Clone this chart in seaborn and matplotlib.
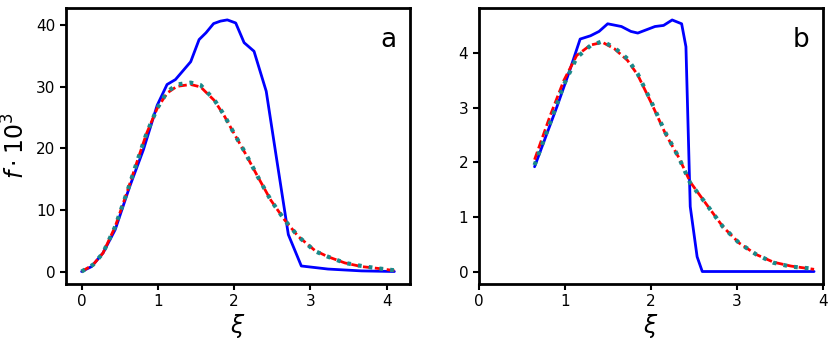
import numpy as np
import pandas as pd
import matplotlib
matplotlib.use("Agg")
import matplotlib.pyplot as plt
import seaborn as sns

# ---- Panel a data ----
a_blue_x = [0.0, 0.13, 0.28, 0.44, 0.63, 0.81, 0.99, 1.12, 1.23, 1.43, 1.54, 1.63, 1.73, 1.82, 1.91, 2.02,
            2.13, 2.26, 2.42, 2.56, 2.71, 2.88, 3.23, 3.67, 4.10]
a_blue_y = [0.0, 0.8, 3.0, 6.8, 13.8, 19.8, 27.0, 30.4, 31.2, 34.1, 37.7, 38.8, 40.3, 40.7, 40.9, 40.4,
            37.2, 35.8, 29.3, 18.0, 6.0, 0.9, 0.4, 0.1, 0.0]
a_fit_x = [0.0, 0.15, 0.28, 0.44, 0.59, 0.72, 0.85, 0.99, 1.12, 1.25, 1.43, 1.56, 1.74, 1.87, 2.00, 2.15,
           2.31, 2.48, 2.66, 2.84, 3.06, 3.23, 3.45, 3.67, 3.89, 4.10]
a_red_y = [0.0, 1.1, 3.0, 7.3, 12.7, 17.6, 22.4, 26.5, 29.0, 30.1, 30.4, 30.0, 27.8, 25.3, 22.4, 19.1,
           15.4, 11.6, 8.4, 5.7, 3.4, 2.4, 1.4, 0.8, 0.5, 0.15]
a_teal_y = [0.0, 1.1, 3.0, 7.3, 12.7, 17.6, 22.4, 26.5, 29.2, 30.4, 30.7, 30.3, 27.9, 25.4, 22.4, 19.2,
            15.4, 11.6, 8.4, 5.7, 3.3, 2.4, 1.4, 0.9, 0.5, 0.2]

# ---- Panel b data ----
b_blue_x = [0.65, 0.91, 1.06, 1.18, 1.30, 1.40, 1.50, 1.66, 1.77, 1.85, 1.95, 2.05, 2.15, 2.25, 2.36,
            2.41, 2.46, 2.54, 2.60, 3.90]
b_blue_y = [1.92, 3.02, 3.69, 4.26, 4.32, 4.40, 4.54, 4.49, 4.40, 4.37, 4.43, 4.49, 4.51, 4.61, 4.54,
            4.12, 1.19, 0.27, 0.0, 0.0]
b_fit_x = [0.65, 0.83, 0.99, 1.14, 1.30, 1.44, 1.58, 1.73, 1.85, 2.01, 2.17, 2.33, 2.46, 2.64, 2.84,
           3.03, 3.23, 3.43, 3.63, 3.90]
b_red_y = [2.05, 2.85, 3.50, 3.96, 4.15, 4.20, 4.08, 3.87, 3.60, 3.08, 2.53, 2.08, 1.64, 1.25, 0.82,
           0.52, 0.31, 0.17, 0.10, 0.04]
b_teal_y = [1.95, 2.72, 3.42, 3.92, 4.14, 4.22, 4.10, 3.90, 3.62, 3.10, 2.55, 2.08, 1.62, 1.25, 0.82,
            0.52, 0.31, 0.16, 0.09, 0.05]

sns.set_style("ticks")
plt.rcParams['font.family'] = ['DejaVu Sans']

fig = plt.figure(figsize=(8.31, 3.46), dpi=100)
ax1 = fig.add_axes([0.0794, 0.179, 0.414, 0.798])
ax2 = fig.add_axes([0.576, 0.179, 0.414, 0.798])


def draw(ax, bx, by, fx, ry, ty, letter):
    sns.lineplot(x=bx, y=by, ax=ax, color='#0000ff', linewidth=2.0, sort=False)
    sns.lineplot(x=fx, y=ry, ax=ax, color='#ff0000', linewidth=2.0, sort=False, linestyle=(0, (3, 1.3)))
    sns.lineplot(x=fx, y=ty, ax=ax, color='#1a8a8a', linewidth=3.0, sort=False, linestyle=(0, (0.9, 1.7)))
    for s in ax.spines.values():
        s.set_visible(True)
        s.set_linewidth(2.0)
        s.set_color('black')
    ax.tick_params(axis='both', direction='out', length=4, width=1.5, labelsize=11,
                   color='black', labelcolor='black')
    ax.set_xlabel(r'$\xi$', fontsize=17, labelpad=2, color='black')
    ax.text(0.96, 0.93, letter, transform=ax.transAxes, ha='right', va='top', fontsize=19, color='black')


draw(ax1, a_blue_x, a_blue_y, a_fit_x, a_red_y, a_teal_y, 'a')
draw(ax2, b_blue_x, b_blue_y, b_fit_x, b_red_y, b_teal_y, 'b')

ax1.set_xlim(-0.205, 4.305)
ax1.set_ylim(-2.04, 42.84)
ax1.set_xticks([0, 1, 2, 3, 4])
ax1.set_yticks([0, 10, 20, 30, 40])
ax1.set_ylabel(r'$f\cdot10^3$', fontsize=17, labelpad=5, color='black')

ax2.set_xlim(0, 4.0)
ax2.set_ylim(-0.23, 4.83)
ax2.set_xticks([0, 1, 2, 3, 4])
ax2.set_yticks([0, 1, 2, 3, 4])
ax2.set_ylabel('')

fig.savefig('out.png', dpi=100)
